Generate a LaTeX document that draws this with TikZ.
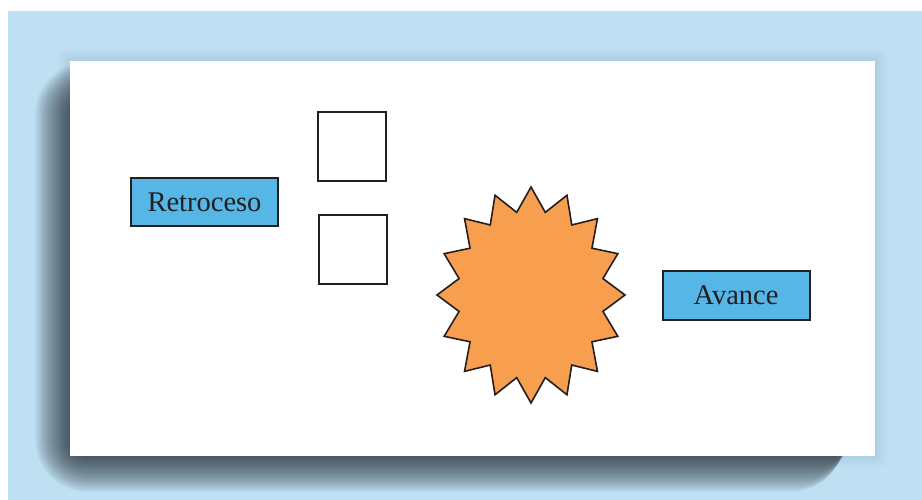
\documentclass[tikz,border=0pt]{standalone}
\usepackage{fontspec}
\setmainfont{Liberation Serif}
\definecolor{pagebg}{HTML}{BFE0F3}
\definecolor{shadowcol}{RGB}{43,50,58}
\definecolor{labelfill}{HTML}{56B6E6}
\definecolor{burst}{HTML}{F79E4F}
\definecolor{ink}{HTML}{231F20}
\begin{document}
\begin{tikzpicture}[x=1pt,y=-1pt,
  labelbox/.style={draw=ink, line width=2pt, fill=labelfill, minimum width=147pt,
    minimum height=48.5pt, inner sep=0pt, font=\fontsize{28.5}{34}\selectfont, text=ink},
  emptybox/.style={draw=ink, line width=2pt, fill=white, minimum width=68pt,
    minimum height=69pt, inner sep=0pt},
  starburst/.style={draw=ink, line width=1.6pt, fill=burst, line join=miter}]
  % canvas and page background
  \useasboundingbox (0,0) rectangle (922,500);
  \fill[white] (0,0) rectangle (922,500);
  \fill[pagebg] (8,11) rectangle (922,500);
  % faint halo around the panel
  \foreach \k in {1,...,8} {
    \fill[shadowcol, opacity=0.009, rounded corners=\k pt]
      ({70-1.5*\k},{61-1.5*\k}) rectangle ({875+1.5*\k},{456+1.5*\k});
  }
  % soft drop shadow under the panel (many thin translucent layers)
  \foreach \k in {0,...,41} {
    \pgfmathsetmacro\d{(\k-21)*1.2}
    \pgfmathsetmacro\rc{max(\d+28,2)}
    \fill[shadowcol, opacity=0.039, rounded corners=\rc pt]
      ({59-\d},{86-\d}) rectangle ({848-\d*0.2},{468+\d});
  }
  % white panel
  \fill[white] (70,61) rectangle (875,456);
  % labels and empty boxes
  \node[labelbox] (retro) at (204.5,202) {Retroceso};
  \node[emptybox] (boxa) at (352,146.5) {};
  \node[emptybox] (boxb) at (353,249.5) {};
  \node[labelbox] (avance) at (736,295.5) {Avance};
  % sixteen-point burst
  \coordinate (burstc) at (531,295);
  \draw[starburst] plot[samples at={0,...,31}, variable=\t]
    ({531+94*(1-0.22*mod(\t,2))*cos(90+\t*11.25)},
     {295+108*(1-0.22*mod(\t,2))*sin(90+\t*11.25)}) -- cycle;
\end{tikzpicture}
\end{document}
